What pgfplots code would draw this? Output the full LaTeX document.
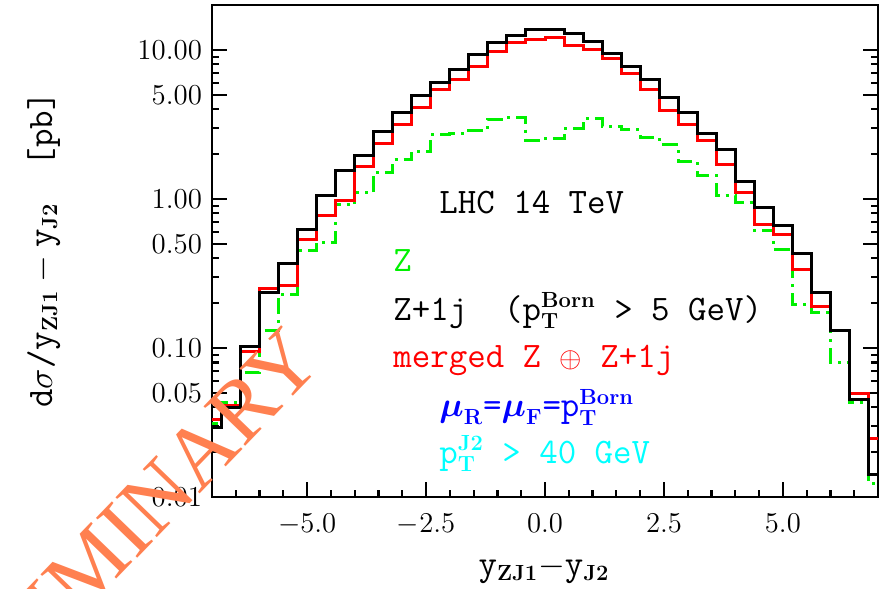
\documentclass[border=0pt]{standalone}
\usepackage{amsmath}
\usepackage{fontspec}
\usepackage{pgfplots}
\pgfplotsset{compat=1.18}
\newfontfamily\wmfont{Liberation Serif}
\definecolor{zgreen}{RGB}{0,240,0}
\definecolor{zblue}{RGB}{0,0,255}
\definecolor{zcyan}{RGB}{0,255,255}
\definecolor{wmorange}{RGB}{255,128,80}
\newcommand{\lab}{\fontsize{18}{20}\selectfont\ttfamily}
\newcommand{\smb}[1]{\hbox{\fontsize{11}{12}\selectfont\rmfamily\bfseries #1}}
\begin{document}
\begin{tikzpicture}[x=1bp,y=1bp]
\begin{axis}[
  at={(106bp,45.5bp)}, anchor=south west,
  scale only axis, width=333bp, height=246bp,
  ymode=log, xmin=-7, xmax=7, ymin=0.01, ymax=20,
  axis line style={line width=1.4bp, black},
  tick style={line width=1.1bp, black},
  major tick length=7.5bp, minor tick length=3.5bp,
  tick align=inside,
  xtick pos=bottom, ytick pos=both, yticklabel pos=left,
  xtick={-5,-2.5,0,2.5,5},
  xticklabels={$-5.0$,$-2.5$,$0.0$,$2.5$,$5.0$},
  minor xtick={-6.5,-6,-5.5,-4.5,-4,-3.5,-3,-2,-1.5,-1,-0.5,0.5,1,1.5,2,3,3.5,4,4.5,5.5,6,6.5},
  ytick={0.01,0.05,0.1,0.5,1,5,10},
  yticklabels={0.01,0.05,0.10,0.50,1.00,5.00,10.00},
  minor ytick={0.02,0.03,0.04,0.06,0.07,0.08,0.09,0.2,0.3,0.4,0.6,0.7,0.8,0.9,2,3,4,6,7,8,9},
  ticklabel style={font=\fontsize{14.5}{16}\selectfont},
  yticklabel style={xshift=-1.5bp},
  xticklabel style={yshift=-5bp},
]
\addplot[zgreen, line width=1.5bp, const plot, dash pattern=on 8bp off 3bp on 1.5bp off 3bp] coordinates {
(-7.2,0.031)(-6.8,0.043)(-6.4,0.068)(-6.0,0.130)(-5.6,0.229)(-5.2,0.449)(-4.8,0.510)(-4.4,0.912)(-4.0,1.10)(-3.6,1.51)(-3.2,1.83)(-2.8,2.08)(-2.4,2.70)(-2.0,2.74)(-1.6,2.87)(-1.2,3.42)(-0.8,3.52)(-0.4,2.46)(0.0,2.54)(0.4,2.99)(0.8,3.46)(1.2,3.07)(1.6,2.90)(2.0,2.58)(2.4,2.32)(2.8,1.78)(3.2,1.44)(3.6,1.05)(4.0,0.94)(4.4,0.612)(4.8,0.456)(5.2,0.196)(5.6,0.174)(6.0,0.080)(6.4,0.043)(6.8,0.0124)(7.2,0.0124)};
\addplot[red, line width=1.5bp, const plot] coordinates {
(-7.2,0.033)(-6.8,0.041)(-6.4,0.095)(-6.0,0.250)(-5.6,0.264)(-5.2,0.532)(-4.8,0.773)(-4.4,0.98)(-4.0,1.65)(-3.6,2.34)(-3.2,3.15)(-2.8,4.08)(-2.4,5.45)(-2.0,6.32)(-1.6,7.74)(-1.2,9.7)(-0.8,11.2)(-0.4,11.8)(0.0,12.1)(0.4,10.7)(0.8,10.0)(1.2,8.7)(1.6,6.95)(2.0,5.45)(2.4,3.90)(2.8,3.16)(3.2,2.47)(3.6,1.69)(4.0,1.11)(4.4,0.671)(4.8,0.575)(5.2,0.334)(5.6,0.189)(6.0,0.131)(6.4,0.0492)(6.8,0.0248)(7.2,0.0248)};
\addplot[black, line width=1.5bp, const plot] coordinates {
(-7.2,0.0291)(-6.8,0.0400)(-6.4,0.103)(-6.0,0.235)(-5.6,0.371)(-5.2,0.628)(-4.8,1.06)(-4.4,1.55)(-4.0,1.96)(-3.6,2.84)(-3.2,3.81)(-2.8,4.94)(-2.4,6.07)(-2.0,7.43)(-1.6,9.29)(-1.2,11.2)(-0.8,12.4)(-0.4,13.8)(0.0,13.8)(0.4,12.9)(0.8,11.3)(1.2,9.4)(1.6,7.71)(2.0,6.32)(2.4,4.76)(2.8,3.79)(3.2,2.74)(3.6,2.15)(4.0,1.31)(4.4,0.879)(4.8,0.661)(5.2,0.433)(5.6,0.235)(6.0,0.130)(6.4,0.045)(6.8,0.0141)(7.2,0.0141)};
\end{axis}
% texts
\node[anchor=base west, font=\lab, inner sep=0] at (219.5,187.3) {LHC 14 TeV};
\node[anchor=base west, font=\lab, inner sep=0, text=zgreen] at (196.5,158.2) {Z};
\node[anchor=base west, font=\lab, inner sep=0] at (196.5,134) {Z+1j\ \ (p$_{\smb{T}}^{\smb{Born}}$ > 5 GeV)};
\node[anchor=base west, font=\lab, inner sep=0, text=red] at (196.5,110.5) {merged Z {\fontsize{14}{14}\selectfont$\oplus$} Z+1j};
\node[anchor=base west, font=\lab, inner sep=0, text=zblue] at (219.5,85.7) {$\boldsymbol{\mu}_{\smb{R}}$=$\boldsymbol{\mu}_{\smb{F}}$=p$_{\smb{T}}^{\smb{Born}}$};
\node[anchor=base west, font=\lab, inner sep=0, text=zcyan] at (219.5,62.3) {p$_{\smb{T}}^{\smb{J2}}$ > 40 GeV};
% axis labels
\node[anchor=base, font=\lab, inner sep=0] at (272,6.5) {y$_{\smb{ZJ1}}$$-$y$_{\smb{J2}}$};
\node[anchor=base, font=\lab, inner sep=0, rotate=90] at (26,169) {d$\sigma$/y$_{\smb{ZJ1}}$\hspace{4bp}$-$\hspace{4bp}y$_{\smb{J2}}$\ \ [pb]};
% watermark
\node[rotate=46, anchor=east, text=wmorange, font=\wmfont\fontsize{44}{44}\selectfont, inner sep=0] at (152,122) {PRELIMINARY};
\pgfresetboundingbox
\path[use as bounding box] (0,0) rectangle (440,294);
\end{tikzpicture}
\end{document}
